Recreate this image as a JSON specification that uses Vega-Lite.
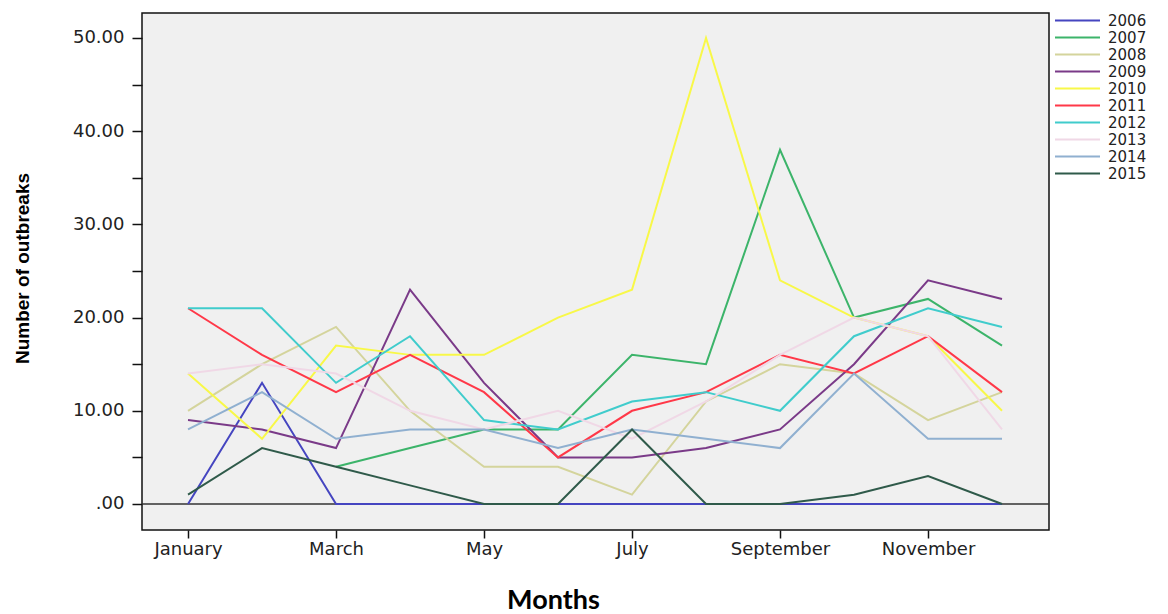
{
  "$schema": "https://vega.github.io/schema/vega-lite/v6.json",
  "width": 907,
  "height": 517,
  "autosize": {"type": "none"},
  "padding": {"left": 142, "top": 13, "right": 119, "bottom": 84},
  "background": "#ffffff",
  "config": {
    "view": {"fill": "#f0f0f0", "stroke": "#111111", "strokeWidth": 1.5},
    "axis": {"grid": false, "domain": false, "labelFont": "DejaVu Sans", "labelFontSize": 18, "labelColor": "#222222", "tickColor": "#111111", "tickWidth": 1.5}
  },
  "datasets": {
    "zero": [{"y": 0}],
    "outbreaks": [
      {"year": "2006", "month": 1, "value": 0}, {"year": "2006", "month": 2, "value": 13}, {"year": "2006", "month": 3, "value": 0}, {"year": "2006", "month": 4, "value": 0}, {"year": "2006", "month": 5, "value": 0}, {"year": "2006", "month": 6, "value": 0}, {"year": "2006", "month": 7, "value": 0}, {"year": "2006", "month": 8, "value": 0}, {"year": "2006", "month": 9, "value": 0}, {"year": "2006", "month": 10, "value": 0}, {"year": "2006", "month": 11, "value": 0}, {"year": "2006", "month": 12, "value": 0},
      {"year": "2007", "month": 3, "value": 4}, {"year": "2007", "month": 4, "value": 6}, {"year": "2007", "month": 5, "value": 8}, {"year": "2007", "month": 6, "value": 8}, {"year": "2007", "month": 7, "value": 16}, {"year": "2007", "month": 8, "value": 15}, {"year": "2007", "month": 9, "value": 38}, {"year": "2007", "month": 10, "value": 20}, {"year": "2007", "month": 11, "value": 22}, {"year": "2007", "month": 12, "value": 17},
      {"year": "2008", "month": 1, "value": 10}, {"year": "2008", "month": 2, "value": 15}, {"year": "2008", "month": 3, "value": 19}, {"year": "2008", "month": 4, "value": 10}, {"year": "2008", "month": 5, "value": 4}, {"year": "2008", "month": 6, "value": 4}, {"year": "2008", "month": 7, "value": 1}, {"year": "2008", "month": 8, "value": 11}, {"year": "2008", "month": 9, "value": 15}, {"year": "2008", "month": 10, "value": 14}, {"year": "2008", "month": 11, "value": 9}, {"year": "2008", "month": 12, "value": 12},
      {"year": "2009", "month": 1, "value": 9}, {"year": "2009", "month": 2, "value": 8}, {"year": "2009", "month": 3, "value": 6}, {"year": "2009", "month": 4, "value": 23}, {"year": "2009", "month": 5, "value": 13}, {"year": "2009", "month": 6, "value": 5}, {"year": "2009", "month": 7, "value": 5}, {"year": "2009", "month": 8, "value": 6}, {"year": "2009", "month": 9, "value": 8}, {"year": "2009", "month": 10, "value": 15}, {"year": "2009", "month": 11, "value": 24}, {"year": "2009", "month": 12, "value": 22},
      {"year": "2010", "month": 1, "value": 14}, {"year": "2010", "month": 2, "value": 7}, {"year": "2010", "month": 3, "value": 17}, {"year": "2010", "month": 4, "value": 16}, {"year": "2010", "month": 5, "value": 16}, {"year": "2010", "month": 6, "value": 20}, {"year": "2010", "month": 7, "value": 23}, {"year": "2010", "month": 8, "value": 50}, {"year": "2010", "month": 9, "value": 24}, {"year": "2010", "month": 10, "value": 20}, {"year": "2010", "month": 11, "value": 18}, {"year": "2010", "month": 12, "value": 10},
      {"year": "2011", "month": 1, "value": 21}, {"year": "2011", "month": 2, "value": 16}, {"year": "2011", "month": 3, "value": 12}, {"year": "2011", "month": 4, "value": 16}, {"year": "2011", "month": 5, "value": 12}, {"year": "2011", "month": 6, "value": 5}, {"year": "2011", "month": 7, "value": 10}, {"year": "2011", "month": 8, "value": 12}, {"year": "2011", "month": 9, "value": 16}, {"year": "2011", "month": 10, "value": 14}, {"year": "2011", "month": 11, "value": 18}, {"year": "2011", "month": 12, "value": 12},
      {"year": "2012", "month": 1, "value": 21}, {"year": "2012", "month": 2, "value": 21}, {"year": "2012", "month": 3, "value": 13}, {"year": "2012", "month": 4, "value": 18}, {"year": "2012", "month": 5, "value": 9}, {"year": "2012", "month": 6, "value": 8}, {"year": "2012", "month": 7, "value": 11}, {"year": "2012", "month": 8, "value": 12}, {"year": "2012", "month": 9, "value": 10}, {"year": "2012", "month": 10, "value": 18}, {"year": "2012", "month": 11, "value": 21}, {"year": "2012", "month": 12, "value": 19},
      {"year": "2013", "month": 1, "value": 14}, {"year": "2013", "month": 2, "value": 15}, {"year": "2013", "month": 3, "value": 14}, {"year": "2013", "month": 4, "value": 10}, {"year": "2013", "month": 5, "value": 8}, {"year": "2013", "month": 6, "value": 10}, {"year": "2013", "month": 7, "value": 7}, {"year": "2013", "month": 8, "value": 11}, {"year": "2013", "month": 9, "value": 16}, {"year": "2013", "month": 10, "value": 20}, {"year": "2013", "month": 11, "value": 18}, {"year": "2013", "month": 12, "value": 8},
      {"year": "2014", "month": 1, "value": 8}, {"year": "2014", "month": 2, "value": 12}, {"year": "2014", "month": 3, "value": 7}, {"year": "2014", "month": 4, "value": 8}, {"year": "2014", "month": 5, "value": 8}, {"year": "2014", "month": 6, "value": 6}, {"year": "2014", "month": 7, "value": 8}, {"year": "2014", "month": 8, "value": 7}, {"year": "2014", "month": 9, "value": 6}, {"year": "2014", "month": 10, "value": 14}, {"year": "2014", "month": 11, "value": 7}, {"year": "2014", "month": 12, "value": 7},
      {"year": "2015", "month": 1, "value": 1}, {"year": "2015", "month": 2, "value": 6}, {"year": "2015", "month": 3, "value": 4}, {"year": "2015", "month": 4, "value": 2}, {"year": "2015", "month": 5, "value": 0}, {"year": "2015", "month": 6, "value": 0}, {"year": "2015", "month": 7, "value": 8}, {"year": "2015", "month": 8, "value": 0}, {"year": "2015", "month": 9, "value": 0}, {"year": "2015", "month": 10, "value": 1}, {"year": "2015", "month": 11, "value": 3}, {"year": "2015", "month": 12, "value": 0}
    ]
  },
  "layer": [
    {
      "data": {"name": "zero"},
      "mark": {"type": "rule", "color": "#333333", "strokeWidth": 1.5},
      "encoding": {
        "y": {"field": "y", "type": "quantitative", "scale": {"domain": [-2.79, 52.68], "nice": false, "zero": false}}
      }
    },
    {
      "data": {"name": "outbreaks"},
      "mark": {"type": "line", "strokeWidth": 2},
      "encoding": {
        "x": {
          "field": "month", "type": "quantitative",
          "scale": {"domain": [0.378, 12.635], "nice": false, "zero": false},
          "axis": {
            "values": [1, 3, 5, 7, 9, 11],
            "labelExpr": "['January','February','March','April','May','June','July','August','September','October','November','December'][datum.value - 1]",
            "tickSize": 8, "labelPadding": 2,
            "title": "Months", "titleFont": "Lato", "titleFontSize": 27, "titleFontWeight": "bold", "titleColor": "#000000",
            "titleX": 411, "titleY": 70, "titleBaseline": "middle", "titleAlign": "center"
          }
        },
        "y": {
          "field": "value", "type": "quantitative",
          "scale": {"domain": [-2.79, 52.68], "nice": false, "zero": false},
          "axis": {
            "values": [0, 5, 10, 15, 20, 25, 30, 35, 40, 45, 50],
            "labelExpr": "datum.value % 10 != 0 ? '' : (datum.value == 0 ? '.00' : format(datum.value, '.2f'))",
            "tickSize": 10, "labelPadding": 8,
            "title": "Number of outbreaks", "titleFont": "Liberation Sans", "titleFontSize": 19, "titleFontWeight": "bold", "titleColor": "#000000",
            "titleAngle": -90, "titleX": -120, "titleY": 255, "titleBaseline": "middle", "titleAlign": "center"
          }
        },
        "color": {
          "field": "year", "type": "nominal",
          "scale": {
            "domain": ["2006", "2007", "2008", "2009", "2010", "2011", "2012", "2013", "2014", "2015"],
            "range": ["#4545c0", "#3cb46a", "#d4d49c", "#7a3a88", "#f8f848", "#ff3848", "#40cccc", "#f0d8e6", "#90b0d0", "#2f5a4a"]
          },
          "legend": {
            "title": null, "orient": "none", "legendX": 928, "legendY": 0, "padding": 0,
            "symbolType": "M-5,0H5", "symbolSize": 81, "symbolStrokeWidth": 2,
            "labelOffset": 23, "labelFont": "DejaVu Sans", "labelFontSize": 15, "labelColor": "#222222",
            "rowPadding": 1
          }
        }
      }
    }
  ]
}
